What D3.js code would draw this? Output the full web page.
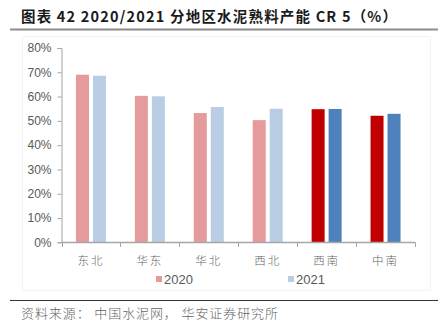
<!DOCTYPE html>
<html>
<head>
<meta charset="utf-8">
<script src="https://cdn.jsdelivr.net/npm/d3@7"></script>
<style>
  html, body { margin: 0; padding: 0; background: #fff; }
  svg { display: block; }
</style>
</head>
<body>
<svg id="chart" width="438" height="329"></svg>
<script>
// Regions and clinker capacity concentration (CR5, %) for 2020 and 2021
const regions = ["东北", "华东", "华北", "西北", "西南", "中南"];
const cr5_2020 = [69.0, 60.3, 53.2, 50.3, 54.8, 52.1];
const cr5_2021 = [68.6, 60.1, 55.7, 55.0, 54.9, 52.9];
const yTicks = [0, 10, 20, 30, 40, 50, 60, 70, 80];
const seriesNames = ["2020", "2021"];

const titleText = "图表 42 2020/2021 分地区水泥熟料产能 CR 5（%）";
const sourceText = "资料来源： 中国水泥网， 华安证券研究所";

// Palette: the last two regions are highlighted with saturated colours
const light2020 = "#E59A9B", light2021 = "#B9CDE5";
const dark2020 = "#C00000", dark2021 = "#4F81BD";
const highlighted = new Set(["西南", "中南"]);

const svg = d3.select("#chart");
const cjk = "'Noto Sans CJK SC', 'Noto Sans', sans-serif";
const latin = "'Liberation Sans', Arial, sans-serif";

// faint chart frame
svg.append("rect")
  .attr("x", 22.5).attr("y", 36.5).attr("width", 408).attr("height", 254)
  .attr("fill", "none").attr("stroke", "#f3f3f3").attr("stroke-width", 1);

// title and rule
svg.append("text")
  .attr("x", 21).attr("y", 21.5)
  .attr("font-family", cjk).attr("font-weight", "bold")
  .attr("font-size", 14.5).attr("fill", "#1a1a1a")
  .attr("textLength", 376).attr("lengthAdjust", "spacing")
  .text(titleText);
svg.append("line")
  .attr("x1", 10).attr("x2", 438).attr("y1", 29.5).attr("y2", 29.5)
  .attr("stroke", "#8c8c8c").attr("stroke-width", 2);

// scales
const x = d3.scaleBand().domain(regions).range([61.5, 415]).padding(0);
const y = d3.scaleLinear().domain([0, 80]).range([242.3, 48]);

// y axis
const yAxis = svg.append("g")
  .attr("transform", "translate(61.5,0)")
  .call(d3.axisLeft(y).tickValues(yTicks).tickFormat(d => d + "%").tickSize(4).tickPadding(6));
yAxis.select(".domain").attr("stroke", "#a6a6a6");
yAxis.selectAll(".tick line").attr("stroke", "#a6a6a6");
yAxis.selectAll(".tick text")
  .attr("font-family", latin).attr("font-size", 12).attr("fill", "#595959");

// bars
const barW = 13, gap = 4;
const groups = svg.append("g").selectAll("g")
  .data(regions).join("g");

groups.append("rect")
  .attr("x", d => x(d) + x.bandwidth() / 2 - gap / 2 - barW)
  .attr("y", (d, i) => y(cr5_2020[i]))
  .attr("width", barW)
  .attr("height", (d, i) => y(0) - y(cr5_2020[i]))
  .attr("fill", d => highlighted.has(d) ? dark2020 : light2020);

groups.append("rect")
  .attr("x", d => x(d) + x.bandwidth() / 2 + gap / 2)
  .attr("y", (d, i) => y(cr5_2021[i]))
  .attr("width", barW)
  .attr("height", (d, i) => y(0) - y(cr5_2021[i]))
  .attr("fill", d => highlighted.has(d) ? dark2021 : light2021);

// x axis with ticks on category boundaries
const xAxisG = svg.append("g");
xAxisG.append("line")
  .attr("x1", 61.5).attr("x2", 415.5).attr("y1", 242.5).attr("y2", 242.5)
  .attr("stroke", "#a6a6a6").attr("stroke-width", 1.5);
const bounds = regions.map(d => x(d)).concat([x(regions[regions.length - 1]) + x.bandwidth()]);
xAxisG.selectAll(".bt").data(bounds).join("line")
  .attr("class", "bt")
  .attr("x1", d => Math.round(d) + 0.5).attr("x2", d => Math.round(d) + 0.5)
  .attr("y1", 242.5).attr("y2", 247)
  .attr("stroke", "#a6a6a6");
xAxisG.selectAll(".cat").data(regions).join("text")
  .attr("class", "cat")
  .attr("x", d => x(d) + x.bandwidth() / 2)
  .attr("y", 264.5)
  .attr("text-anchor", "middle")
  .attr("font-family", cjk).attr("font-size", 11.5).attr("font-weight", 300)
  .attr("fill", "#666")
  .attr("letter-spacing", 2)
  .text(d => d);

// legend
const legendX = [156, 288];
const legendColors = [light2020, light2021];
const legend = svg.append("g").selectAll("g").data(seriesNames).join("g")
  .attr("transform", (d, i) => `translate(${legendX[i]},0)`);
legend.append("rect")
  .attr("x", 0).attr("y", 276).attr("width", 6).attr("height", 6)
  .attr("fill", (d, i) => legendColors[i]);
legend.append("text")
  .attr("x", 8).attr("y", 283.5)
  .attr("font-family", latin).attr("font-size", 13).attr("fill", "#595959")
  .text(d => d);

// bottom rule and source
svg.append("line")
  .attr("x1", 10).attr("x2", 438).attr("y1", 300.5).attr("y2", 300.5)
  .attr("stroke", "#333").attr("stroke-width", 1.2);
svg.append("text")
  .attr("x", 21).attr("y", 318)
  .attr("font-family", cjk).attr("font-size", 13).attr("font-weight", 300)
  .attr("fill", "#666")
  .attr("textLength", 257).attr("lengthAdjust", "spacing")
  .text(sourceText);
</script>
</body>
</html>
